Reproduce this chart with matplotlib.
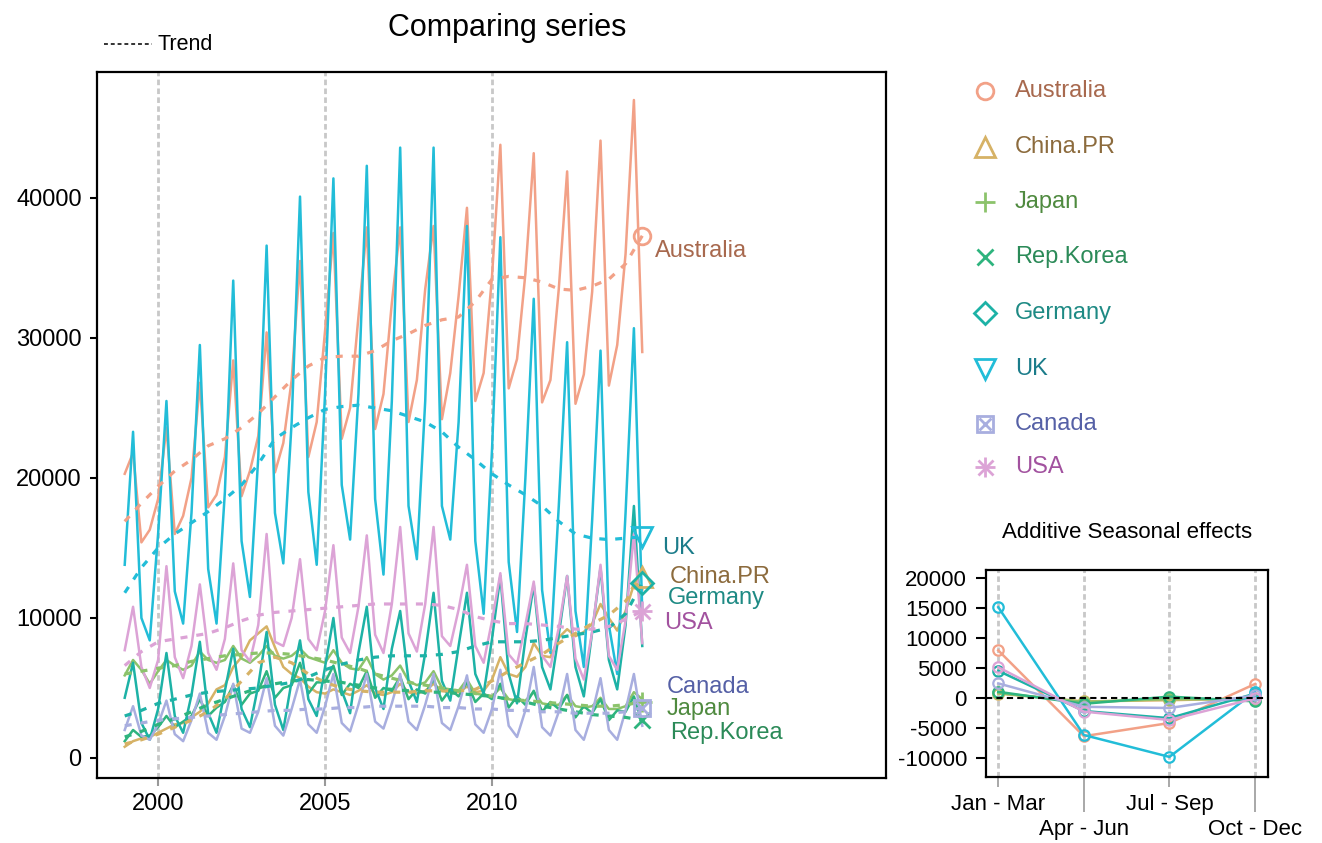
import numpy as np
import matplotlib
matplotlib.use("Agg")
import matplotlib.pyplot as plt
from matplotlib.lines import Line2D

plt.rcParams["font.family"] = ["Liberation Sans", "DejaVu Sans"]
plt.rcParams["axes.unicode_minus"] = False

# quarterly values, first point is Q4 1998, then Q1..Q4 per year, last point Q2 2014
countries = ["Australia", "China.PR", "Japan", "Rep.Korea", "Germany", "UK", "Canada", "USA"]

australia = [20300, 21800, 15400, 16300, 18500, 23600, 16000, 17300,
             20000, 26800, 17900, 18800, 21500, 28400, 18700, 20500,
             23000, 30400, 20400, 22500, 27000, 35500, 21500, 24000,
             30500, 37500, 22800, 25000, 31500, 37900, 23500, 26000,
             32500, 37900, 24000, 27000, 33500, 38000, 24200, 27500,
             33000, 39300, 25500, 27500, 34400, 43800, 26400, 28500,
             34600, 43200, 25400, 27000, 33500, 41900, 25300, 27400,
             33300, 44100, 26600, 29500, 36000, 47000, 29000]
china = [800, 1200, 1400, 1500, 1800, 2100, 2400, 2500,
         2900, 3300, 3900, 4900, 5200, 6500, 7200, 8400,
         8900, 9400, 7900, 6500, 6000, 5700, 5100, 4700,
         4600, 4900, 4700, 4500, 4800, 5200, 4600, 4500,
         4700, 5300, 4700, 4600, 4800, 5300, 4800, 4700,
         4700, 5100, 4700, 4800, 5600, 7200, 6000, 5800,
         6500, 8200, 7300, 7200, 8600, 9200, 8700, 9000,
         9600, 11000, 10000, 9100, 10500, 12400, 12000]
japan = [5900, 7000, 6300, 5300, 6200, 7000, 6600, 6300,
         6600, 7600, 7000, 6800, 7000, 8000, 7100, 6800,
         7300, 8000, 7300, 7100, 7300, 7800, 7200, 7000,
         6800, 7700, 6800, 6400, 6300, 7200, 6000, 5600,
         5900, 6600, 5500, 5200, 5400, 6200, 5000, 4900,
         4800, 5600, 4600, 4500, 4400, 5000, 4200, 4100,
         4100, 4700, 3900, 3800, 3800, 4500, 3700, 3600,
         3700, 4300, 3500, 3500, 3700, 4700, 4200]
korea = [1200, 2000, 1500, 1600, 2200, 3000, 2200, 2600,
         3000, 4200, 3000, 3600, 4000, 5200, 3800, 4600,
         4800, 6200, 4300, 5000, 5200, 6800, 4600, 5400,
         5400, 6600, 4500, 5300, 5000, 6200, 4300, 5000,
         4800, 5800, 4200, 4900, 4600, 5600, 4100, 4900,
         4400, 5400, 4000, 4600, 4200, 5300, 3600, 4400,
         3800, 4800, 3300, 4000, 3500, 4500, 2900, 3700,
         3200, 4200, 2700, 3400, 3300, 4400, 2500]
germany = [4300, 6800, 2500, 1300, 3500, 7500, 3000, 1800,
           4500, 8300, 3200, 1800, 4800, 7800, 3500, 2200,
           5200, 9000, 3800, 2000, 5500, 8400, 4200, 3000,
           6500, 10000, 4800, 3200, 7500, 10800, 5000, 3500,
           7800, 10500, 5500, 4000, 7500, 11800, 5500, 4100,
           8000, 11800, 6000, 4600, 8500, 13000, 6000, 3900,
           8500, 12400, 6500, 4900, 8800, 13000, 6500, 4400,
           9000, 13600, 7000, 4900, 9500, 18000, 8000]
uk = [13800, 23300, 10000, 8400, 16000, 25500, 11900, 9600,
      17500, 29500, 13500, 9600, 19000, 34100, 15500, 11500,
      21500, 36600, 17500, 13900, 24000, 40100, 19000, 13800,
      26000, 41400, 19500, 15600, 26000, 42300, 18500, 13100,
      25500, 43600, 18000, 14200, 25500, 43600, 18000, 15600,
      24000, 38000, 15500, 10300, 22000, 37200, 14000, 9000,
      20000, 32800, 12000, 7500, 18000, 29700, 10500, 6500,
      17000, 29100, 9500, 6000, 17500, 30700, 10500]
canada = [2000, 3700, 1600, 1300, 2400, 4100, 1700, 1200,
          2700, 4600, 1800, 1300, 3000, 5300, 2100, 1800,
          3300, 5700, 2300, 1600, 3500, 5600, 2400, 1800,
          3700, 6000, 2500, 1900, 3800, 6000, 2600, 2100,
          3900, 6000, 2600, 2000, 3800, 6000, 2500, 2000,
          3700, 5900, 2400, 1800, 3500, 6300, 2300, 1500,
          3400, 6500, 2200, 1600, 3300, 6000, 2000, 1300,
          3200, 5700, 2000, 1300, 3400, 6000, 2300]
usa = [7700, 10800, 6500, 5000, 7000, 13700, 7200, 5700,
       8000, 12400, 7500, 6300, 8500, 13900, 7700, 6900,
       9500, 16000, 8300, 8000, 10000, 14200, 8500, 7700,
       10500, 15200, 8600, 7500, 10800, 15900, 8800, 7500,
       11000, 16500, 8900, 7600, 11000, 16500, 8700, 8000,
       10600, 13800, 8000, 6800, 9800, 13200, 7400, 6700,
       9500, 12600, 7300, 6500, 9300, 13000, 7100, 5600,
       9000, 13800, 7300, 6300, 9800, 16000, 8200]

# trend, every half year from 1999.0 to 2014.5
australia_trend = [16900, 18200, 19400, 20500, 21300, 22300, 22800, 23600,
                   24600, 25800, 27000, 28000, 28600, 28700, 28700, 29100,
                   29800, 30300, 30900, 31300, 31500, 32600, 34200, 34400,
                   34300, 34000, 33500, 33400, 33700, 34200, 35300, 37300]
china_trend = [1000, 1300, 1700, 2200, 2700, 3300, 4200, 5500,
               6800, 7200, 6800, 6000, 5400, 5000, 4800, 4700,
               4700, 4700, 4800, 4800, 4800, 4900, 5500, 6200,
               6800, 7400, 8200, 8900, 9600, 10200, 11200, 12900]
japan_trend = [6000, 6200, 6400, 6600, 6900, 7100, 7300, 7400,
               7500, 7500, 7400, 7200, 7000, 6700, 6400, 6000,
               5700, 5400, 5200, 5000, 4800, 4600, 4400, 4200,
               4100, 4000, 3900, 3800, 3700, 3700, 3800, 4000]
korea_trend = [1500, 1900, 2400, 2800, 3300, 3800, 4200, 4600,
               5000, 5300, 5500, 5600, 5500, 5400, 5200, 5000,
               4900, 4800, 4700, 4700, 4600, 4500, 4400, 4200,
               4000, 3700, 3500, 3300, 3100, 3000, 2900, 2700]
germany_trend = [3000, 3400, 3900, 4200, 4500, 4700, 4800, 4900,
                 5000, 5200, 5400, 5800, 6300, 6700, 7000, 7200,
                 7300, 7300, 7300, 7400, 7600, 8000, 8300, 8300,
                 8300, 8400, 8600, 8800, 9000, 9300, 10300, 12500]
uk_trend = [11800, 13600, 15000, 16000, 16800, 17600, 18500, 19500,
            21000, 22800, 23600, 24300, 24900, 25100, 25200, 25000,
            24800, 24400, 24000, 23300, 22200, 21300, 20300, 19500,
            18800, 18000, 16900, 16000, 15700, 15600, 15700, 15800]
canada_trend = [2300, 2500, 2700, 2800, 2900, 3000, 3100, 3200,
                3300, 3400, 3400, 3500, 3500, 3600, 3600, 3700,
                3700, 3700, 3700, 3600, 3600, 3500, 3500, 3400,
                3400, 3300, 3300, 3200, 3200, 3200, 3300, 3600]
usa_trend = [6600, 7600, 8300, 8500, 8700, 8900, 9300, 9800,
             10200, 10400, 10500, 10600, 10700, 10800, 10900, 11000,
             11000, 11000, 11000, 10900, 10600, 10100, 9800, 9600,
             9600, 9500, 9400, 9200, 9200, 9400, 9900, 10500]

# additive seasonal effects
seasons = ["Jan - Mar", "Apr - Jun", "Jul - Sep", "Oct - Dec"]
australia_season = [8000, -6300, -4100, 2400]
china_season = [800, -500, -300, 0]
japan_season = [900, -600, -100, -200]
korea_season = [1100, -900, 300, -500]
germany_season = [4600, -2100, -3300, 800]
uk_season = [15200, -6100, -9750, 1100]
canada_season = [2500, -1400, -1600, 500]
usa_season = [5200, -2200, -3600, 0]

values = dict(zip(countries, [australia, china, japan, korea, germany, uk, canada, usa]))
trends = dict(zip(countries, [australia_trend, china_trend, japan_trend, korea_trend,
                              germany_trend, uk_trend, canada_trend, usa_trend]))
effects = dict(zip(countries, [australia_season, china_season, japan_season, korea_season,
                               germany_season, uk_season, canada_season, usa_season]))

line_col = {"Australia": "#F2A187", "China.PR": "#D6B266", "Japan": "#8CC36B",
            "Rep.Korea": "#2EB47E", "Germany": "#1DB2A6", "UK": "#22BDD8",
            "Canada": "#A8AEDF", "USA": "#DCA3D6"}
text_col = {"Australia": "#A8694E", "China.PR": "#8C6B3D", "Japan": "#4F8A3F",
            "Rep.Korea": "#2B8A58", "Germany": "#1E8A84", "UK": "#1B7C8A",
            "Canada": "#5560A6", "USA": "#A2529F"}

W, H = 1322, 843
fx = lambda px: px / W
fy = lambda py: 1 - py / H


def put_marker(target, x, y, name, size, **kw):
    c = line_col[name]
    base = dict(color=c, linestyle="none", mew=2, **kw)
    if name == "Australia":
        target(x, y, marker="o", ms=size * 0.8, mfc="none", **base)
    elif name == "China.PR":
        target(x, y, marker="^", ms=size, mfc="none", **base)
    elif name == "Japan":
        target(x, y, marker="+", ms=size, **base)
    elif name == "Rep.Korea":
        target(x, y, marker="x", ms=size * 0.8, **base)
    elif name == "Germany":
        target(x, y, marker="D", ms=size * 0.75, mfc="none", **base)
    elif name == "UK":
        target(x, y, marker="v", ms=size, mfc="none", **base)
    elif name == "Canada":
        target(x, y, marker="s", ms=size * 0.8, mfc="none", **base)
        target(x, y, marker="x", ms=size * 0.55, **base)
    else:
        target(x, y, marker="+", ms=size, **base)
        target(x, y, marker="x", ms=size * 0.72, **base)


fig = plt.figure(figsize=(W / 100, H / 100), dpi=100)

# main panel
ax = fig.add_axes([fx(97), fy(778), fx(886) - fx(97), fy(72) - fy(778)])
quarter_t = 1999 + 0.25 * np.arange(len(australia))
trend_t = 1999 + 0.5 * np.arange(len(australia_trend))

for yr in [2000, 2005, 2010]:
    ax.axvline(yr, color="#c8c8c8", lw=2, ls=(0, (2, 1.2)), zorder=1)

for name in countries:
    ax.plot(quarter_t, values[name], color=line_col[name], lw=1.8, zorder=2)
for name in countries:
    ax.plot(trend_t, trends[name], color=line_col[name], lw=2.3,
            ls=(0, (2.2, 2.8)), zorder=3)
for name in countries:
    put_marker(ax.plot, trend_t[-1], trends[name][-1], name, 15, zorder=4)

label_pos = {"Australia": (2014.88, 36200), "UK": (2015.09, 15000),
             "China.PR": (2015.33, 12900), "Germany": (2015.27, 11400),
             "USA": (2015.15, 9650), "Canada": (2015.24, 5100),
             "Japan": (2015.24, 3500), "Rep.Korea": (2015.33, 1800)}
for name, (lx, ly) in label_pos.items():
    ax.text(lx, ly, name, color=text_col[name], fontsize=17, va="center", ha="left")

ax.set_xlim(1998.17, 2021.8)
ax.set_ylim(-1430, 49000)
ax.set_yticks([0, 10000, 20000, 30000, 40000])
ax.set_yticklabels(["0", "10000", "20000", "30000", "40000"])
ax.set_xticks([2000, 2005, 2010])
ax.tick_params(axis="y", length=5, width=1.5, labelsize=17, pad=6)
ax.tick_params(axis="x", length=6, width=1.5, color="#999999", labelsize=17, pad=5)
for s in ax.spines.values():
    s.set_linewidth(1.6)

fig.text(fx(507), fy(28), "Comparing series", ha="center", va="center", fontsize=22)
fig.add_artist(Line2D([fx(104), fx(152)], [fy(44), fy(44)], transform=fig.transFigure,
                      color="#333333", lw=1.4, ls=(0, (2, 1.5))))
fig.text(fx(157), fy(44), "Trend", fontsize=15.5, ha="left", va="center")

# legend on the right
leg_y = [91, 147, 202, 257, 313, 369, 424, 467]
for name, py in zip(countries, leg_y):
    put_marker(lambda x, y, **k: fig.add_artist(Line2D([x], [y], transform=fig.transFigure, **k)),
               fx(985), fy(py), name, 15)
    fig.text(fx(1015), fy(py), name, color=text_col[name], fontsize=17, ha="left", va="center")

# seasonal panel
ax2 = fig.add_axes([fx(985.7), fy(777), fx(1268) - fx(985.7), fy(570) - fy(777)])
pos = np.arange(1, len(seasons) + 1)
for p in pos:
    ax2.axvline(p, color="#c8c8c8", lw=2, ls=(0, (2, 1.2)), zorder=1)
for name in countries:
    ax2.plot(pos, effects[name], color=line_col[name], lw=1.8, marker="o", ms=7.5,
             mfc="none", mew=1.6, zorder=2)
ax2.axhline(0, color="black", lw=1.5, ls=(0, (3, 2)), zorder=4)
ax2.set_xlim(0.853, 4.152)
ax2.set_ylim(-13100, 21400)
yt = [-10000, -5000, 0, 5000, 10000, 15000, 20000]
ax2.set_yticks(yt)
ax2.set_yticklabels([str(v) for v in yt])
ax2.set_xticks(pos[::2], seasons[::2])
ax2.set_xticks(pos[1::2], seasons[1::2], minor=True)
ax2.tick_params(axis="x", which="major", length=7, width=1.2, color="#999999",
                labelsize=16, pad=5)
ax2.tick_params(axis="x", which="minor", length=25, width=1.2, color="#999999",
                labelsize=16, pad=5)
ax2.tick_params(axis="y", length=7.5, width=1.5, labelsize=16, pad=6)
for s in ax2.spines.values():
    s.set_linewidth(1.6)
fig.text(fx(1127), fy(533), "Additive Seasonal effects", ha="center", va="center", fontsize=16)

fig.savefig("out.png", dpi=100)
